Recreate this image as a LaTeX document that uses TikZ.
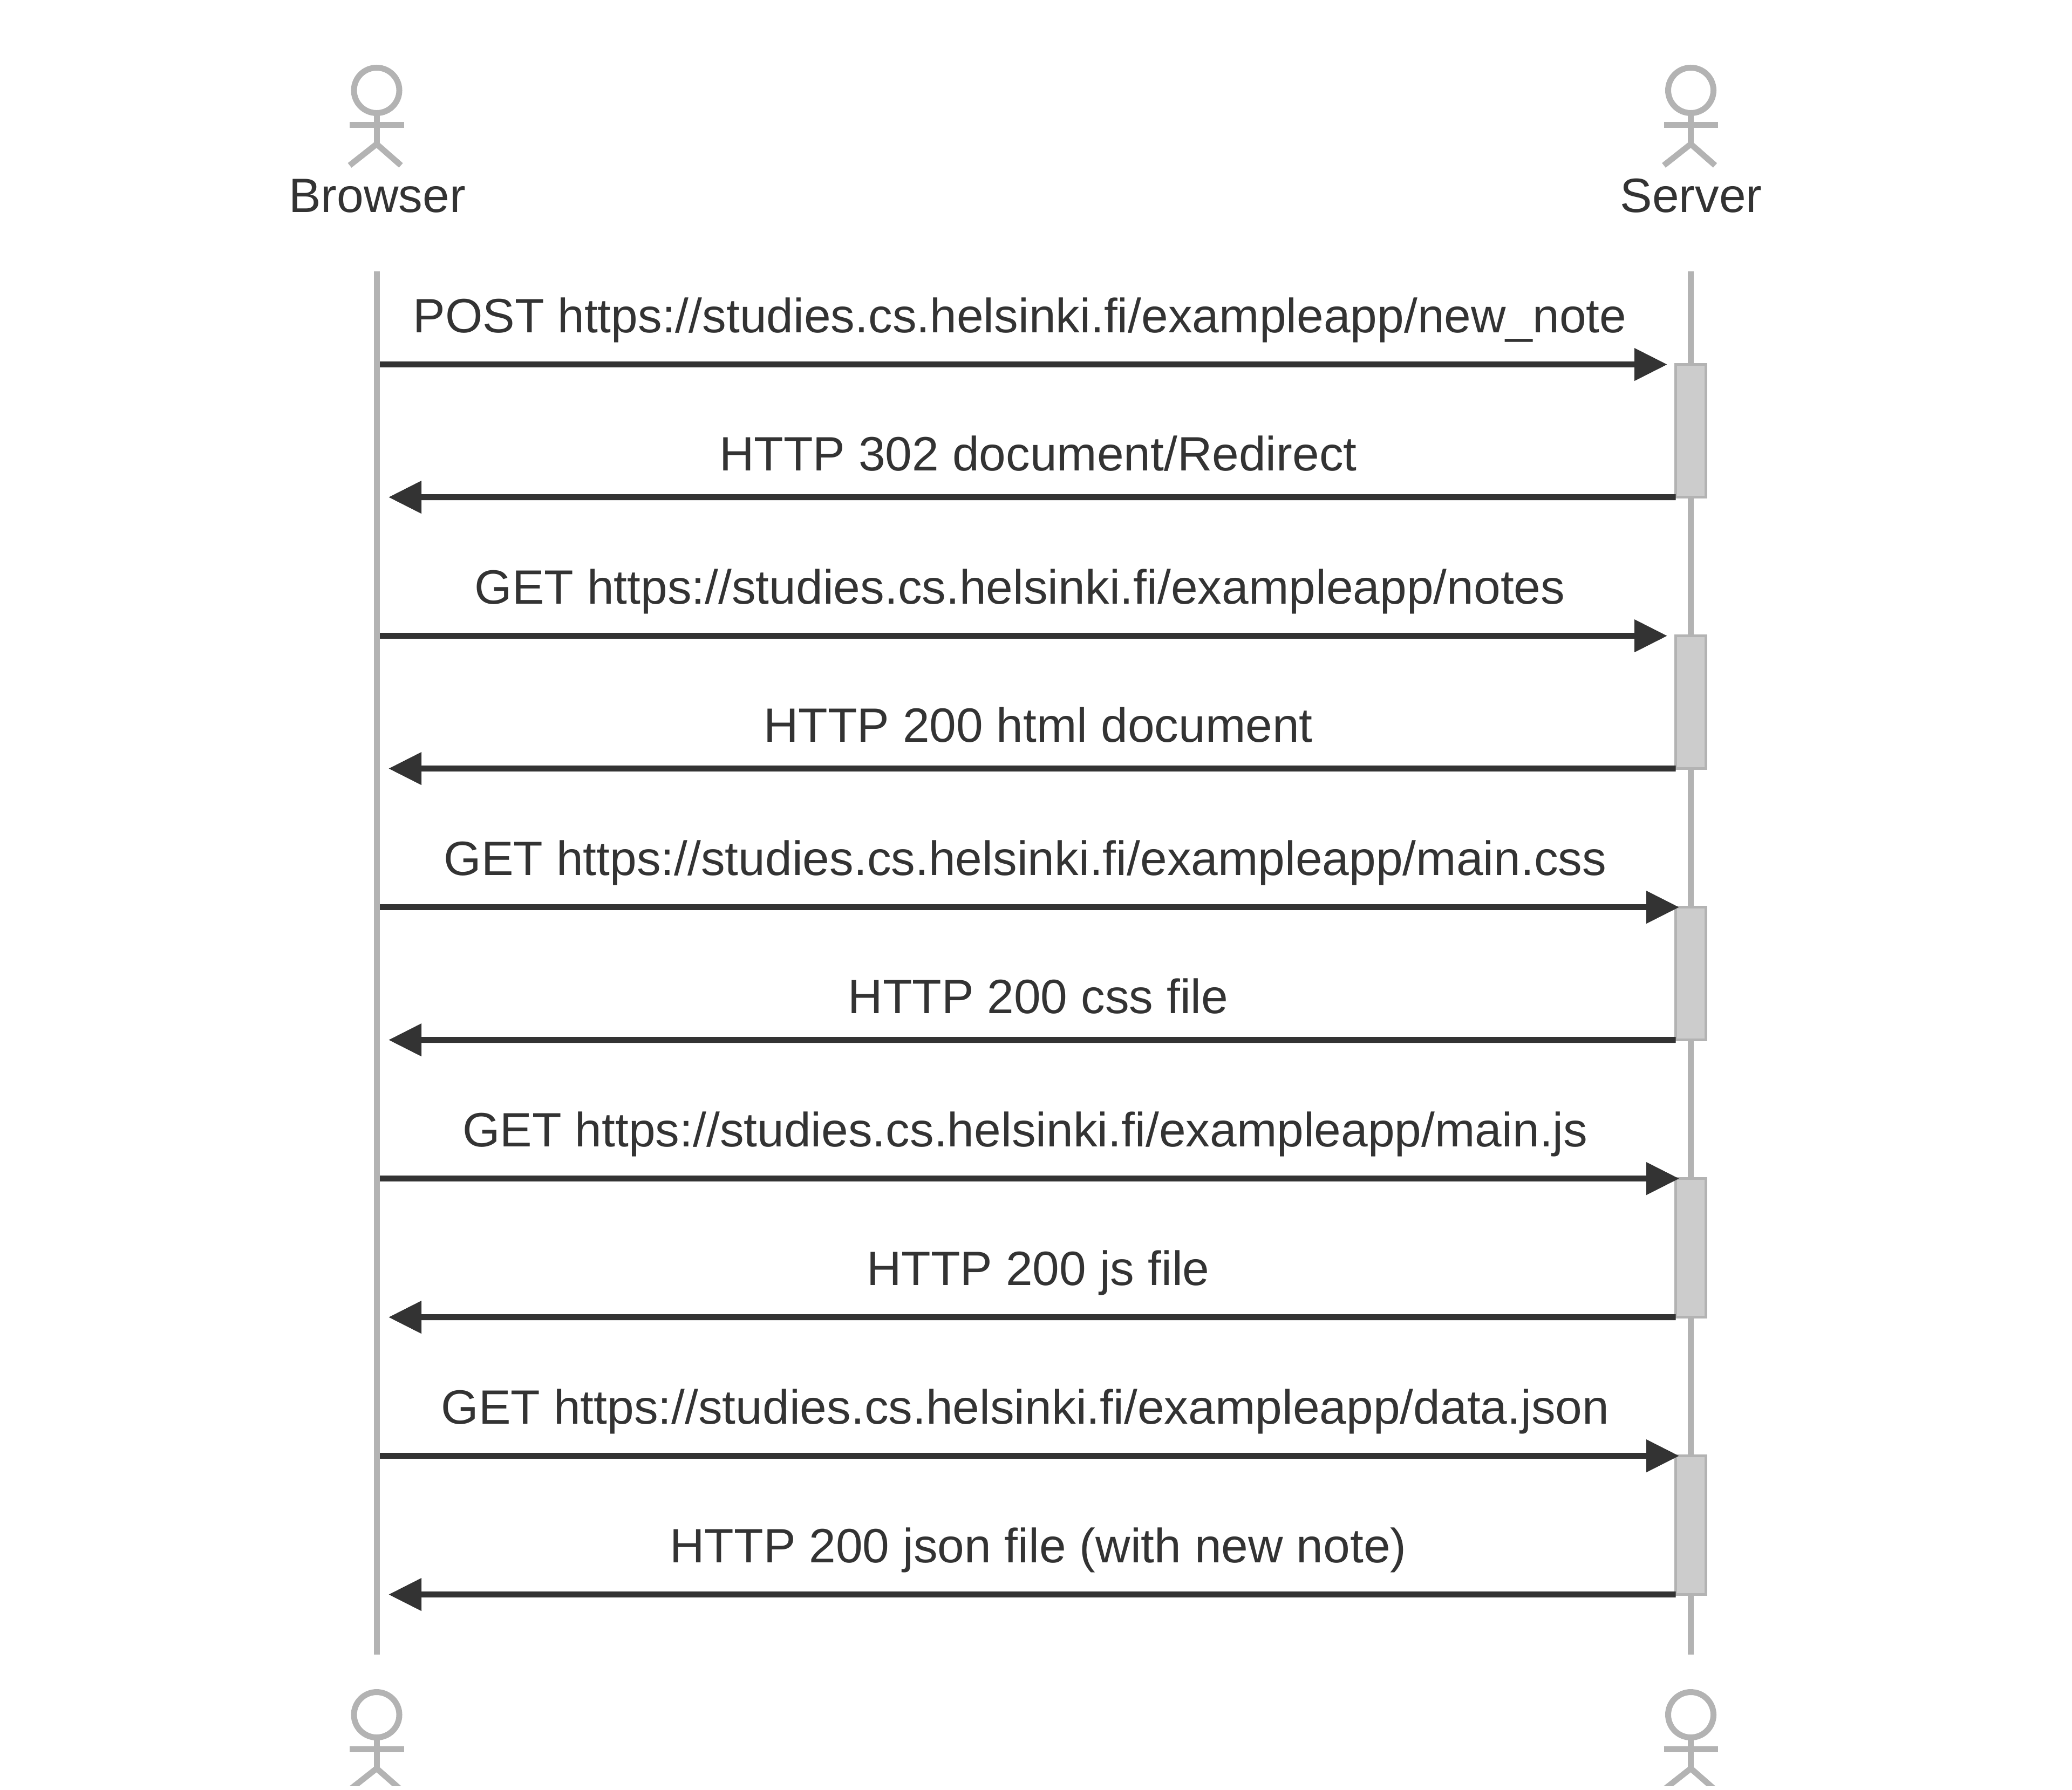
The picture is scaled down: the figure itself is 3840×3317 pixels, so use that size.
\documentclass[tikz,border=0pt]{standalone}
\usepackage{fontspec}
\setmainfont{Liberation Sans}
\usetikzlibrary{arrows.meta}
\definecolor{linegray}{HTML}{B3B3B3}
\definecolor{boxgray}{HTML}{CCCCCC}
\definecolor{inkgray}{HTML}{333333}
\tikzset{
  lifeline/.style={linegray, line width=.11cm},
  actorhead/.style={circle, draw=linegray, line width=.11cm, minimum size=.84cm, inner sep=0, outer sep=0},
  activebox/.style={draw=linegray, fill=boxgray, line width=.053cm, minimum width=.56cm, minimum height=2.46cm, inner sep=0, outer sep=0},
  msg/.style={inkgray, line width=.11cm, -{Triangle[length=.61cm,width=.58cm]}},
  msglabel/.style={inkgray, anchor=base, inner sep=0, font=\fontsize{25.4}{30}\selectfont},
}

\begin{document}
\begin{tikzpicture}[x=.01cm, y=-.01cm]
\useasboundingbox (0,0) rectangle (3840,3317);
\clip (0,0) rectangle (3840,3310);

% lifelines
\coordinate (browsertop) at (698,503);
\coordinate (browserend) at (698,3067);
\coordinate (servertop) at (3133.5,503);
\coordinate (serverend) at (3133.5,3067);
\draw[lifeline] (browsertop) -- (browserend);
\draw[lifeline] (servertop) -- (serverend);

% actors, top and bottom
\foreach \name/\x/\y in {browsera/698/167.5, servera/3133.5/167.5, browserb/698/3178.5, serverb/3133.5/3178.5} {
  \node[actorhead] (\name) at (\x,\y) {};
  \draw[lifeline] (\name.south) -- ++(0,57.5) coordinate (\name hip);
  \draw[lifeline] (\x-50,\y+64.2) -- (\x+50.5,\y+64.2);
  \draw[lifeline, line join=miter] (\x-50,\y+139) -- (\name hip) -- (\x+45,\y+139);
}
\node[msglabel] (browserlabel) at (699,393.5) {Browser};
\node[msglabel] (serverlabel) at (3134,393.5) {Server};

% activations
\node[activebox] (act1) at (3133.5,798.6) {};
\node[activebox] (act2) at (3133.5,1301.6) {};
\node[activebox] (act3) at (3133.5,1804.6) {};
\node[activebox, minimum height=2.57cm] (act4) at (3133.5,2313.1) {};
\node[activebox, minimum height=2.57cm] (act5) at (3133.5,2827.1) {};

% messages
\coordinate (b1) at (704,675.6);
\coordinate (s1) at (3090,675.6);
\coordinate (b2) at (720,921.6);
\coordinate (b3) at (704,1178.6);
\coordinate (s3) at (3090,1178.6);
\coordinate (b4) at (720,1424.6);
\coordinate (b5) at (704,1681.6);
\coordinate (s5) at (3112,1681.6);
\coordinate (b6) at (720,1927.6);
\coordinate (b7) at (704,2184.6);
\coordinate (s7) at (3112,2184.6);
\coordinate (b8) at (720,2441.6);
\coordinate (b9) at (704,2698.6);
\coordinate (s9) at (3112,2698.6);
\coordinate (b10) at (720,2955.6);

\draw[msg] (b1) -- (s1);
\draw[msg] (act1.south west) -- (b2);
\draw[msg] (b3) -- (s3);
\draw[msg] (act2.south west) -- (b4);
\draw[msg] (b5) -- (s5);
\draw[msg] (act3.south west) -- (b6);
\draw[msg] (b7) -- (s7);
\draw[msg] (act4.south west) -- (b8);
\draw[msg] (b9) -- (s9);
\draw[msg] (act5.south west) -- (b10);

\node[msglabel] (m1) at (1890,616) {POST https://studies.cs.helsinki.fi/exampleapp/new\_note};
\node[msglabel] (m2) at (1924,872) {HTTP 302 document/Redirect};
\node[msglabel] (m3) at (1890,1119) {GET https://studies.cs.helsinki.fi/exampleapp/notes};
\node[msglabel] (m4) at (1924,1375) {HTTP 200 html document};
\node[msglabel] (m5) at (1900,1622) {GET https://studies.cs.helsinki.fi/exampleapp/main.css};
\node[msglabel] (m6) at (1924,1878) {HTTP 200 css file};
\node[msglabel] (m7) at (1900,2125) {GET https://studies.cs.helsinki.fi/exampleapp/main.js};
\node[msglabel] (m8) at (1924,2382) {HTTP 200 js file};
\node[msglabel] (m9) at (1900,2639) {GET https://studies.cs.helsinki.fi/exampleapp/data.json};
\node[msglabel] (m10) at (1924,2896) {HTTP 200 json file (with new note)};
\end{tikzpicture}
\end{document}
